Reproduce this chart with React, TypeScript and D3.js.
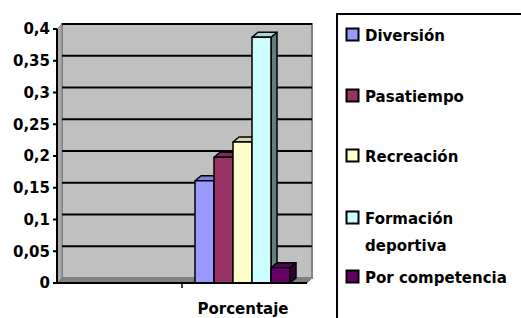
import * as d3 from "d3";

const series = ["Diversión", "Pasatiempo", "Recreación", "Formación deportiva", "Por competencia"];
const values = [0.161, 0.198, 0.222, 0.387, 0.024];
const colors = ["#9999FF", "#993366", "#FFFFCC", "#CCFFFF", "#660066"];
const yTicks = [0, 0.05, 0.1, 0.15, 0.2, 0.25, 0.3, 0.35, 0.4];
const category = "Porcentaje";
const legendLines = [["Diversión"], ["Pasatiempo"], ["Recreación"], ["Formación", "deportiva"], ["Por competencia"]];
const legendBaselines = [41, 102, 162, 224, 283];

const width = 521;
const height = 318;
const font = "'DejaVu Sans', sans-serif";

export default function App() {
  // front plane of the 3D box, the back wall sits dx/dy behind it
  const left = 57;
  const right = 307;
  const dx = 5;
  const dy = -5;
  const y = d3.scaleLinear().domain([0, 0.4]).range([283, 29]);
  const x = d3.scaleBand<string>().domain(series).range([195, 290]).padding(0);
  const bdx = 6;
  const bdy = -5;
  const fmt = (v: number) => String(v).replace(".", ",");
  const catX = d3.scalePoint<string>().domain([category]).range([left, right]).padding(0.5);

  return (
    <svg width={width} height={height} style={{ position: "absolute", left: 0, top: 0 }}>
      <rect x={0} y={0} width={width} height={height} fill="#ffffff" />
      {/* back wall */}
      <rect x={left + dx} y={y(0.4) + dy} width={right - left} height={y(0) - y(0.4)} fill="#C0C0C0" stroke="#808080" strokeWidth={2} />
      {/* side wall */}
      <polygon
        points={`${left},${y(0.4)} ${left + dx},${y(0.4) + dy} ${left + dx},${y(0) + dy} ${left},${y(0)}`}
        fill="#A8A8A8"
        stroke="#808080"
        strokeWidth={1}
      />
      {/* floor */}
      <polygon
        points={`${left},${y(0)} ${left + dx},${y(0) + dy} ${right + dx},${y(0) + dy} ${right},${y(0)}`}
        fill="#808080"
        stroke="#808080"
        strokeWidth={1}
      />
      {yTicks.slice(1).map((t) => (
        <line key={t} x1={left + dx} x2={right + dx} y1={y(t) + dy} y2={y(t) + dy} stroke="#000" strokeWidth={2} />
      ))}
      {series.map((s, i) => {
        const x0 = x(s) as number;
        const x1 = x0 + x.bandwidth();
        const top = y(values[i]);
        const base = y(0);
        const c = d3.color(colors[i])!;
        return (
          <g key={s} stroke="#000" strokeWidth={1.5} strokeLinejoin="round">
            <polygon points={`${x1},${top} ${x1 + bdx},${top + bdy} ${x1 + bdx},${base + bdy} ${x1},${base}`} fill={c.darker(2).formatHex()} />
            <polygon points={`${x0},${top} ${x0 + bdx},${top + bdy} ${x1 + bdx},${top + bdy} ${x1},${top}`} fill={c.darker(0.5).formatHex()} />
            <rect x={x0} y={top} width={x.bandwidth()} height={base - top} fill={colors[i]} />
          </g>
        );
      })}
      {/* axes */}
      <line x1={left} x2={left} y1={y(0.4)} y2={y(0) + 1} stroke="#000" strokeWidth={2} />
      <line x1={left - 4} x2={right} y1={y(0)} y2={y(0)} stroke="#000" strokeWidth={2} />
      {yTicks.map((t) => (
        <g key={t}>
          <line x1={left - 4} x2={left} y1={y(t)} y2={y(t)} stroke="#000" strokeWidth={2} />
          <text x={50} y={y(t)} dy="0.36em" textAnchor="end" fontFamily={font} fontWeight="bold" fontSize={15} fill="#000">
            {fmt(t)}
          </text>
        </g>
      ))}
      <line x1={(catX(category) as number)} x2={(catX(category) as number)} y1={y(0)} y2={y(0) + 5} stroke="#000" strokeWidth={1.5} />
      <text x={243} y={314} textAnchor="middle" fontFamily={font} fontWeight="bold" fontSize={15} fill="#000">
        {category}
      </text>
      {/* legend */}
      <rect x={337} y={14} width={200} height={320} fill="#fff" stroke="#000" strokeWidth={2} />
      {legendLines.map((lines, i) => (
        <g key={i}>
          <rect x={346.5} y={legendBaselines[i] - 12.5} width={12} height={12} fill={colors[i]} stroke="#000" strokeWidth={2} />
          {lines.map((ln, j) => (
            <text key={j} x={365} y={legendBaselines[i] + j * 27} fontFamily={font} fontWeight="bold" fontSize={15} fill="#000">
              {ln}
            </text>
          ))}
        </g>
      ))}
    </svg>
  );
}
